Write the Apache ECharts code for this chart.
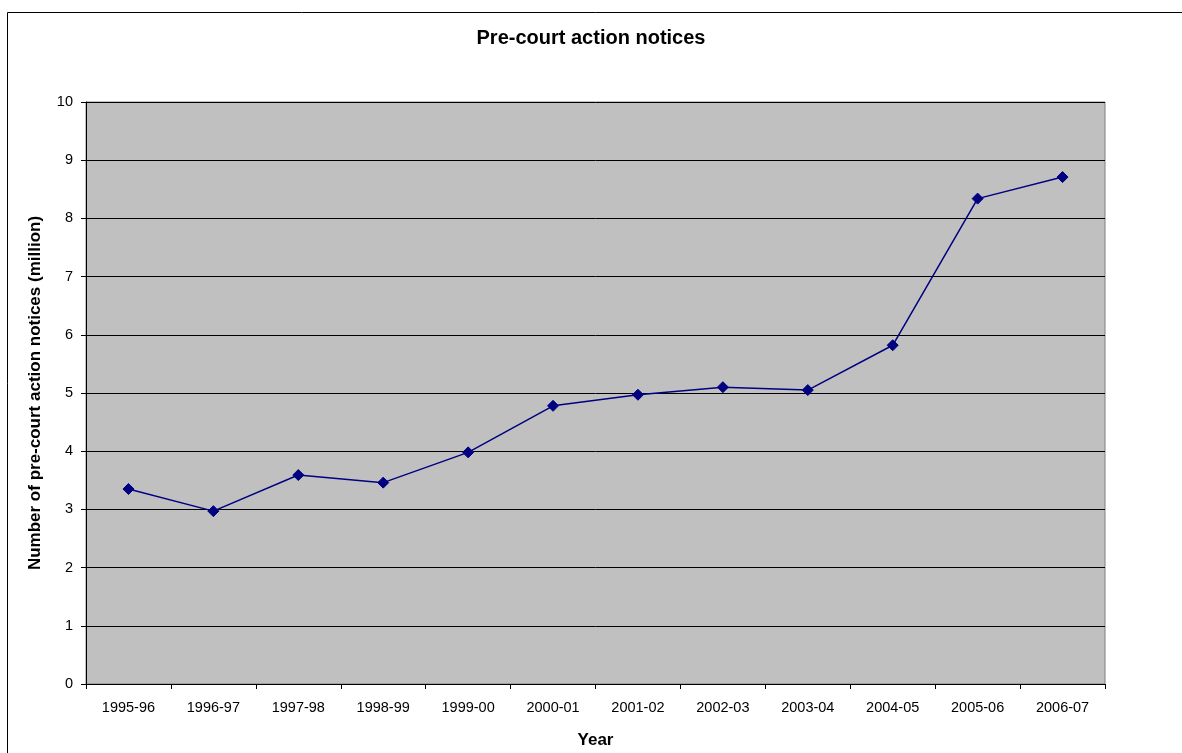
<!DOCTYPE html>
<html>
<head>
<meta charset="utf-8">
<style>
  html, body { margin: 0; padding: 0; background: #ffffff; }
  #chart { width: 1182px; height: 753px; }
</style>
<script src="https://cdn.jsdelivr.net/npm/echarts@6/dist/echarts.min.js"></script>
</head>
<body>
<div id="chart"></div>
<script>
// Financial years shown on the horizontal axis
const years = ['1995-96', '1996-97', '1997-98', '1998-99', '1999-00', '2000-01',
               '2001-02', '2002-03', '2003-04', '2004-05', '2005-06', '2006-07'];

// Pre-court action notices issued each year, in millions
const notices = [3.35, 2.97, 3.59, 3.46, 3.98, 4.78, 4.97, 5.10, 5.05, 5.82, 8.34, 8.71];

// Vertical axis range and step
const yMin = 0;
const yMax = 10;
const yStep = 1;

const FONT = '"Liberation Sans", Arial, sans-serif';

const chart = echarts.init(document.getElementById('chart'), null, { renderer: 'canvas' });

chart.setOption({
  backgroundColor: '#ffffff',
  animation: false,
  textStyle: { fontFamily: FONT },
  title: {
    text: 'Pre-court action notices',
    left: 'center',
    top: 23,
    textStyle: { fontFamily: FONT, fontSize: 20, fontWeight: 'bold', color: '#000000' }
  },
  graphic: [
    {
      // outer chart frame
      type: 'rect',
      silent: true,
      z: -1,
      shape: { x: 7.5, y: 12.5, width: 1190, height: 760 },
      style: { fill: 'none', stroke: '#000000', lineWidth: 1 }
    }
  ],
  grid: {
    left: 86,
    right: 77,
    top: 102,
    bottom: 69,
    containLabel: false,
    outerBoundsMode: 'none',
    show: true,
    backgroundColor: '#c0c0c0',
    borderColor: '#808080',
    borderWidth: 1
  },
  xAxis: {
    type: 'category',
    data: years,
    boundaryGap: true,
    name: 'Year',
    nameLocation: 'middle',
    nameGap: 48,
    nameTextStyle: { fontFamily: FONT, fontSize: 17, fontWeight: 'bold', color: '#000000' },
    axisLine: { show: true, lineStyle: { color: '#000000', width: 1 } },
    axisTick: { show: true, alignWithLabel: false, length: 5, lineStyle: { color: '#000000' } },
    axisLabel: { fontFamily: FONT, fontSize: 14.5, color: '#000000', margin: 16, interval: 0 },
    splitLine: { show: false }
  },
  yAxis: {
    type: 'value',
    min: yMin,
    max: yMax,
    interval: yStep,
    name: 'Number of pre-court action notices (million)',
    nameLocation: 'middle',
    nameRotate: 90,
    nameGap: 42,
    nameTextStyle: { fontFamily: FONT, fontSize: 17, fontWeight: 'bold', color: '#000000' },
    axisLine: { show: true, lineStyle: { color: '#000000', width: 1 } },
    axisTick: { show: true, inside: false, length: 5, lineStyle: { color: '#000000' } },
    axisLabel: { fontFamily: FONT, fontSize: 14.5, color: '#000000', margin: 13 },
    splitLine: { show: true, lineStyle: { color: '#000000', width: 1 } }
  },
  series: [
    {
      type: 'line',
      data: notices,
      symbol: 'diamond',
      symbolSize: 11,
      lineStyle: { color: '#000080', width: 1.5 },
      itemStyle: { color: '#000080', borderColor: '#000080' }
    }
  ]
});
</script>
</body>
</html>
